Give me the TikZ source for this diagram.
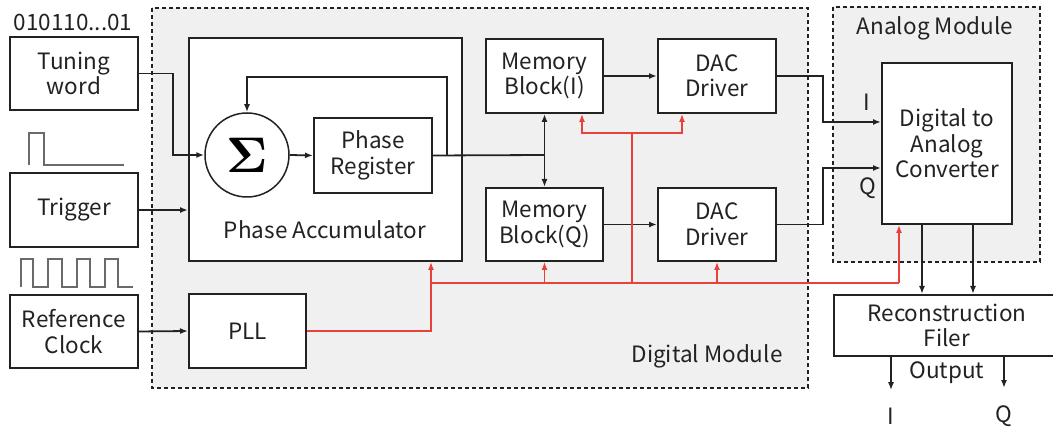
\documentclass[tikz,border=0pt]{standalone}
\usepackage[no-math]{fontspec}
\newfontfamily\jfont{Noto Sans CJK JP}
\usetikzlibrary{arrows.meta,calc}
\definecolor{ink}{HTML}{222222}
\definecolor{modfill}{HTML}{F0F0F0}
\definecolor{clk}{HTML}{E8403A}
\definecolor{wave}{HTML}{6A6A6A}
\begin{document}
\begin{tikzpicture}[x=1pt,y=-1pt,
  txt/.style={font=\jfont\fontsize{22.5}{25.5}\selectfont, text=ink, align=center},
  blk/.style={txt, draw=ink, line width=2pt, fill=white, inner sep=0pt},
  module/.style={draw=ink, line width=1.4pt, dash pattern=on 4pt off 3pt, fill=modfill},
  conn/.style={draw=ink, line width=1.8pt},
  arr/.style={conn, -{Latex[length=8pt,width=6pt]}},
  rline/.style={draw=clk, line width=1.4pt},
  rarr/.style={rline, -{Latex[length=8pt,width=6pt]}},
  wv/.style={draw=wave, line width=1.5pt},
  sumnode/.style={draw=ink, line width=1.5pt, fill=white, shape=circle, minimum size=84pt, inner sep=0pt, font=\fontsize{10}{12}\selectfont},
]
\useasboundingbox (0,0) rectangle (1053,427);
% modules
\draw[module] (152,8) rectangle (808,388);
\draw[module] (833,7) rectangle (1040,262);
\node[txt] (dmlab) at (707,356) {Digital Module};
\node[txt] (amlab) at (935,28) {Analog Module};

% input side
\node[txt] (bits) at (73,22) {010110...01};
\node[blk, minimum width=128pt, minimum height=73pt] (tw) at (74,73.5) {Tuning\\word};
\node[blk, minimum width=128pt, minimum height=74pt] (trig) at (74,210) {Trigger};
\node[blk, minimum width=128pt, minimum height=73pt] (ref) at (74,331.5) {Reference\\Clock};
\draw[wv] (29,165) -- (29,133) -- (44,133) -- (44,165) -- (124,165);
\draw[wv] (21,287) -- (21,259) -- (33,259) -- (33,287) -- (48,287) -- (48,259) -- (62,259) -- (62,287)
  -- (77,287) -- (77,259) -- (90,259) -- (90,287) -- (105,287) -- (105,259) -- (118,259) -- (118,287) -- (133,287);

% phase accumulator
\node[blk, minimum width=273pt, minimum height=223pt] (pa) at (325.5,149.5) {};
\node[txt] (palab) at (325,230) {Phase Accumulator};
\node[sumnode] (acc) at (247,155) {\scalebox{5}{$\mathbf{\Sigma}$}};
\node[blk, minimum width=118pt, minimum height=75pt] (pr) at (373,155.5) {Phase\\Register};

% memory & DAC drivers
\node[blk, minimum width=117pt, minimum height=74pt] (mbi) at (544.5,76) {Memory\\Block(I)};
\node[blk, minimum width=118pt, minimum height=74pt] (daci) at (717,76) {DAC\\Driver};
\node[blk, minimum width=117pt, minimum height=73pt] (mbq) at (544.5,224.5) {Memory\\Block(Q)};
\node[blk, minimum width=118pt, minimum height=73pt] (dacq) at (717,224.5) {DAC\\Driver};
\node[blk, minimum width=117pt, minimum height=74pt] (pll) at (247.5,331) {PLL};

% analog side
\node[blk, minimum width=130pt, minimum height=161pt] (dac) at (947,143.5) {Digital to\\Analog\\Converter};
\node[txt] (lI) at (867,102) {I};
\node[txt] (lQ) at (868,188) {Q};
\node[blk, minimum width=226pt, minimum height=61pt] (rf) at (947,325.5) {Reconstruction\\Filer};
\node[txt] (outlab) at (947,373) {Output};
\node[txt] (oI) at (891,416) {I};
\node[txt] (oQ) at (1004,416) {Q};

% black connectors
\draw[arr] (tw.east) -- ++(34,0) |- (acc.west);
\draw[arr] (trig.east) -- (trig.east -| pa.west);
\draw[arr] (ref.east) -- (pll.west);
\draw[arr] (acc.east) -- (pr.west);
\coordinate (fb) at (447,77);
\draw[arr] (pr.east) -| (fb) -| (acc.north);
\coordinate (j) at (544.5,155);
\draw[conn] (pr.east) -- (j);
\draw[arr] (j) -- (mbi.south);
\draw[arr] (j) -- (mbq.north);
\draw[arr] (mbi.east) -- (daci.west);
\draw[arr] (mbq.east) -- (dacq.west);
\draw[arr] (daci.east) -- ++(46,0) |- ($(dac.west)+(0,-21.5)$);
\draw[arr] (dacq.east) -- ++(46,0) |- ($(dac.west)+(0,24.5)$);
\draw[arr] ($(dac.south)+(-25,0)$) -- ($(rf.north)+(-25,0)$);
\draw[arr] ($(dac.south)+(26,0)$) -- ($(rf.north)+(26,0)$);
\draw[arr, shorten >=14pt] (rf.south -| oI) -- (oI.north);
\draw[arr, shorten >=14pt] (rf.south -| oQ) -- (oQ.north);

% red clock distribution
\coordinate (rb) at (431,283);
\coordinate (re) at (899,283);
\coordinate (rv) at (632,133);
\coordinate (ra) at (582,133);
\coordinate (rc) at (682,133);
\draw[rarr] (pll.east) -| (pa.south -| rb);
\draw[rline] (rb) -- (re);
\draw[rarr] (re) -- (dac.south -| re);
\draw[rarr] (mbq.south |- rb) -- (mbq.south);
\draw[rarr] (dacq.south |- rb) -- (dacq.south);
\draw[rline] (rv |- rb) -- (rv);
\draw[rarr] (rv) -- (ra) -- (ra |- mbi.south);
\draw[rarr] (rv) -- (rc) -- (rc |- daci.south);
\end{tikzpicture}
\end{document}
